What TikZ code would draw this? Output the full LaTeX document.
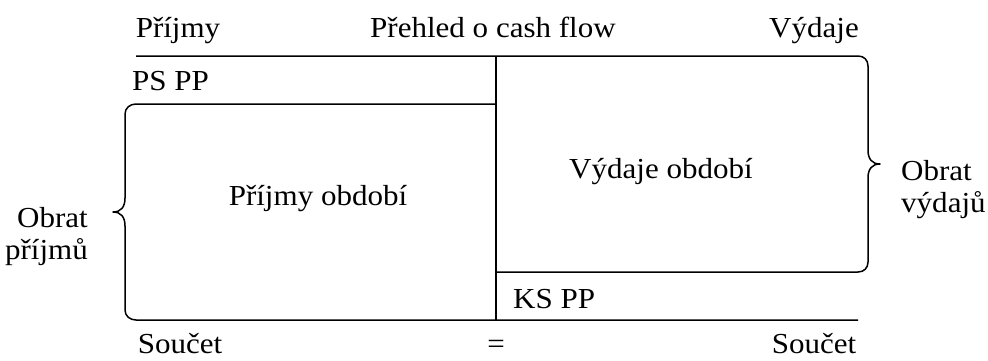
\documentclass[tikz,border=0pt]{standalone}
\usepackage{fontspec}
\setmainfont{Liberation Serif}[FakeStretch=1.07]
\begin{document}
\begin{tikzpicture}[x=1pt,y=-1pt,
  lbl/.style={inner sep=0pt, anchor=base, font=\fontsize{29}{32}\selectfont},
  frame/.style={line width=1.5pt, line join=round}]
\useasboundingbox (0,0) rectangle (988,360);
% key points
\coordinate (TL) at (136,56);
\coordinate (TM) at (496,56);
\coordinate (PSR) at (496,104);
\coordinate (BM) at (496,320);
\coordinate (BR) at (858,320);
\coordinate (KSL) at (496,272);
% frame lines
\draw[frame] (TL) -- (858,56) .. controls (864,56) and (868,60) .. (868,66)
  -- (868,150) .. controls (868,159) and (872,164) .. (880,164)
  .. controls (872,164) and (868,169) .. (868,178)
  -- (868,262) .. controls (868,268) and (864,272) .. (858,272) -- (KSL);
\draw[frame] (PSR) -- (136,104) .. controls (130,104) and (125,108) .. (125,114)
  -- (125,198) .. controls (125,207) and (121,212) .. (113,212)
  .. controls (121,212) and (125,217) .. (125,226)
  -- (125,310) .. controls (125,316) and (130,320) .. (136,320) -- (BR);
\draw[frame] (TM) -- (BM);
% texts
\node[lbl] (prijmy) at (178,37) {Příjmy};
\node[lbl] (title) at (493,37) {Přehled o cash flow};
\node[lbl] (vydaje) at (814,37) {Výdaje};
\node[lbl, anchor=base west] (pspp) at (132,90) {PS PP};
\node[lbl] (prob) at (318,205) {Příjmy období};
\node[lbl] (vyob) at (661,178) {Výdaje období};
\node[lbl, anchor=base west] (kspp) at (513,308) {KS PP};
\node[lbl, text depth=0pt] (sum1) at (180,353) {Součet};
\node[lbl, text depth=0pt] (eq) at (496,353) {=};
\node[lbl, text depth=0pt] (sum2) at (814,353) {Součet};
\node[lbl, anchor=base east, align=right] (obp) at (88,259) {Obrat\\příjmů};
\node[lbl, anchor=base west, align=left] (obv) at (901,212) {Obrat\\výdajů};
\end{tikzpicture}
\end{document}
